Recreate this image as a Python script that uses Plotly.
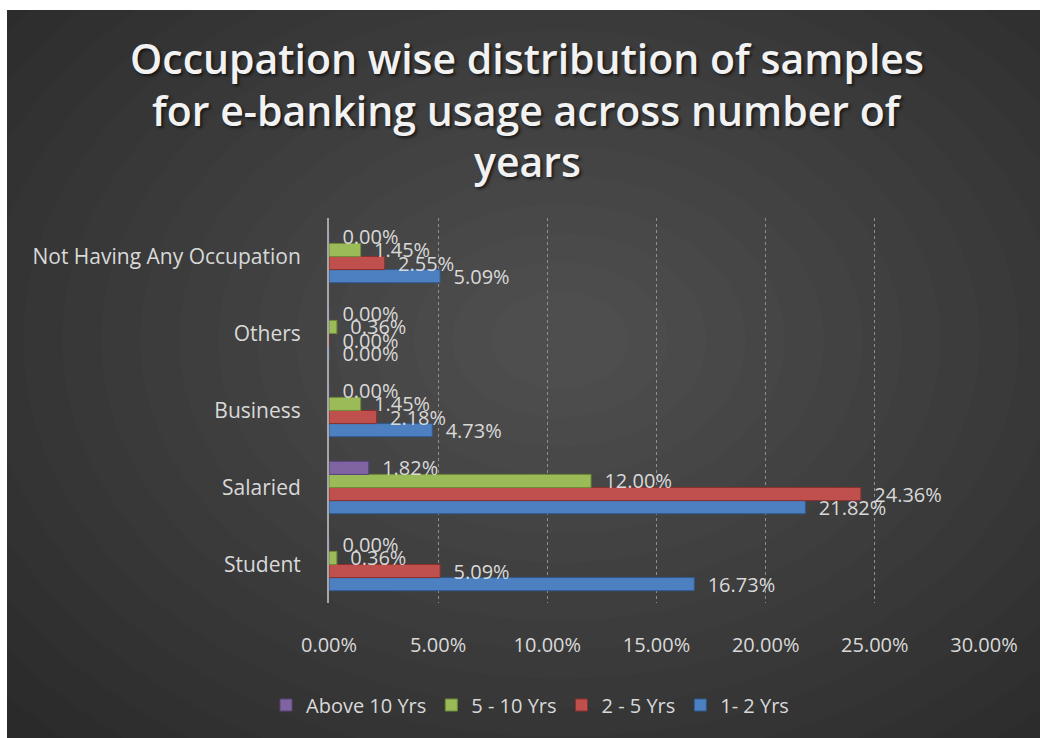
import plotly.graph_objects as go

# ---- data -------------------------------------------------------------
occupations = ["Student", "Salaried", "Business", "Others", "Not Having Any Occupation"]
series_names = ["1- 2 Yrs", "2 - 5 Yrs", "5 - 10 Yrs", "Above 10 Yrs"]
yrs_1_2 = [16.73, 21.82, 4.73, 0.00, 5.09]
yrs_2_5 = [5.09, 24.36, 2.18, 0.00, 2.55]
yrs_5_10 = [0.36, 12.00, 1.45, 0.36, 1.45]
yrs_above_10 = [0.00, 1.82, 0.00, 0.00, 0.00]
x_ticks = [0, 5, 10, 15, 20, 25, 30]
title_lines = ["Occupation wise distribution of samples",
               "for e-banking usage across number of",
               "years"]

series_values = [yrs_1_2, yrs_2_5, yrs_5_10, yrs_above_10]
fill_colors = ["#4c80c0", "#c0504d", "#9bbb59", "#8064a2"]
edge_colors = ["#2f5a8f", "#8c302e", "#6f8a38", "#57427a"]

# ---- page geometry (pixels) ------------------------------------------
W, H = 1040, 738
L, R, T, B = 329, 984, 218, 603


def px_x(x):
    return (x - L) / (R - L)


def px_y(y):
    return (B - y) / (B - T)


fig = go.Figure()

for name, vals, fc, ec in zip(series_names, series_values, fill_colors, edge_colors):
    fig.add_trace(go.Bar(
        name=name,
        y=occupations,
        x=vals,
        orientation="h",
        marker=dict(color=fc, line=dict(color=ec, width=1)),
        texttemplate="\u00a0\u00a0%{x:.2f}%",
        textposition="outside",
        constraintext="none",
        cliponaxis=False,
        textfont=dict(family="Open Sans", size=20, color="#d9d9d9"),
        hoverinfo="skip",
    ))

# ---- background: dark panel with a soft radial glow --------------------
shapes = [dict(type="rect", xref="paper", yref="paper", layer="below",
               x0=px_x(7), x1=px_x(W), y0=px_y(10), y1=px_y(H),
               fillcolor="#262626", line=dict(width=0))]
cx, cy = 560, 340
steps = 20
for i in range(steps):
    f = 1 - i / steps
    rx, ry = 780 * f + 30, 580 * f + 20
    shapes.append(dict(type="circle", xref="paper", yref="paper", layer="below",
                       x0=px_x(cx - rx), x1=px_x(cx + rx),
                       y0=px_y(cy + ry), y1=px_y(cy - ry),
                       fillcolor="rgba(255,255,255,0.01)", line=dict(width=0)))

# ---- title, one annotation per line ------------------------------------
title_centers = [58, 110, 161]
annotations = [
    dict(text=line, xref="paper", yref="paper",
         x=px_x(527), y=px_y(yc), xanchor="center", yanchor="middle",
         showarrow=False,
         font=dict(family="Open Sans", size=41, color="#f2f2f2", weight=600,
                   shadow="2px 2px 3px rgba(0,0,0,0.6)"))
    for line, yc in zip(title_lines, title_centers)
]

fig.update_layout(
    width=W, height=H,
    margin=dict(l=L, r=W - R, t=T, b=H - B, autoexpand=False),
    paper_bgcolor="white",
    plot_bgcolor="rgba(0,0,0,0)",
    barmode="group",
    bargap=0.32,
    bargroupgap=0,
    shapes=shapes,
    annotations=annotations,
    font=dict(family="Open Sans", size=20, color="#d9d9d9"),
    legend=dict(
        orientation="h",
        x=530 / W, xref="container", xanchor="center",
        y=1 - 705 / H, yref="container", yanchor="middle",
        traceorder="reversed",
        font=dict(family="Open Sans", size=20, color="#d9d9d9"),
        bgcolor="rgba(0,0,0,0)",
        itemwidth=30,
    ),
    xaxis=dict(
        range=[0, 30],
        tickvals=x_ticks,
        ticktext=[f"{v:.2f}%" for v in x_ticks],
        showgrid=True, gridcolor="#8f8f8f", griddash="dot", gridwidth=1,
        zeroline=False, showline=False,
        ticks="outside", ticklen=24, tickcolor="rgba(0,0,0,0)",
        tickfont=dict(family="Open Sans", size=20, color="#d9d9d9"),
        fixedrange=True,
    ),
    yaxis=dict(
        categoryorder="array", categoryarray=occupations,
        showgrid=False, zeroline=False,
        showline=True, linecolor="#a6a6a6", linewidth=2,
        ticks="outside", ticklen=22, tickcolor="rgba(0,0,0,0)",
        tickfont=dict(family="Open Sans", size=21, color="#d9d9d9"),
        fixedrange=True,
    ),
)

fig.write_html("out.html")
